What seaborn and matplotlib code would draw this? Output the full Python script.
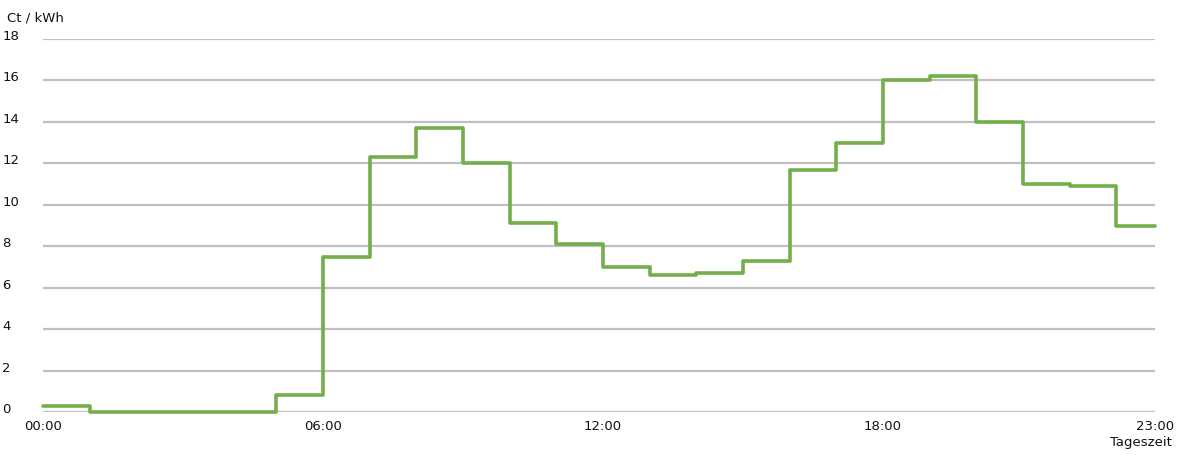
import numpy as np
import pandas as pd
import seaborn as sns
import matplotlib.pyplot as plt

# Stundenwerte (Ct/kWh), jeweils ab Stundenbeginn
hours = list(range(24))
prices = [0.3, 0.0, 0.0, 0.0, 0.0, 0.8, 7.5, 12.3, 13.7, 12.0, 9.1, 8.1,
          7.0, 6.6, 6.7, 7.3, 11.7, 13.0, 16.0, 16.2, 14.0, 11.0, 10.9, 9.0]
tick_hours = [0, 6, 12, 18]
tick_labels = ['00:00', '06:00', '12:00', '18:00', '23:00']
y_ticks = [0, 2, 4, 6, 8, 10, 12, 14, 16, 18]

x_end = 23.83  # rechter Rand der Zeichenfläche

sns.set_theme(style='white')
plt.rcParams['font.family'] = ['DejaVu Sans']

# letzte Stufe bis zum rechten Rand fortführen
df = pd.DataFrame({'Stunde': hours + [x_end], 'Preis': prices + [prices[-1]]})

fig = plt.figure(figsize=(11.8, 4.56), dpi=100)
ax = fig.add_axes([43 / 1180, 1 - 413 / 456, (1155 - 43) / 1180, (413 - 40) / 456])

sns.lineplot(data=df, x='Stunde', y='Preis', drawstyle='steps-post',
             color='#72AE4A', linewidth=2.6, ax=ax, clip_on=False, zorder=3)

ax.set_xlim(0, x_end)
ax.set_ylim(0, 18)
for y in y_ticks:
    ax.axhline(y, color='#BFBFBF', linewidth=1.6, zorder=1)

for s in ax.spines.values():
    s.set_visible(False)

txt = '#111111'
ax.set_xticks(tick_hours + [x_end])
ax.set_xticklabels(tick_labels)
ax.set_yticks(y_ticks)
ax.set_yticklabels([str(v) for v in y_ticks])
ax.tick_params(axis='both', length=0, labelsize=9.5, labelcolor=txt)
ax.tick_params(axis='x', pad=5)
for lbl in ax.get_yticklabels():
    lbl.set_horizontalalignment('left')
    lbl.set_x(-36 / 1112)
    lbl.set_verticalalignment('baseline')

ax.set_xlabel('')
ax.set_ylabel('')
fig.text(7 / 1180, 1 - 18 / 456, 'Ct / kWh', fontsize=9.5, color=txt, va='center', ha='left')
fig.text(1172 / 1180, 1 - 443 / 456, 'Tageszeit', fontsize=9.5, color=txt, va='center', ha='right')

fig.savefig('out.png', dpi=100, facecolor='white')
